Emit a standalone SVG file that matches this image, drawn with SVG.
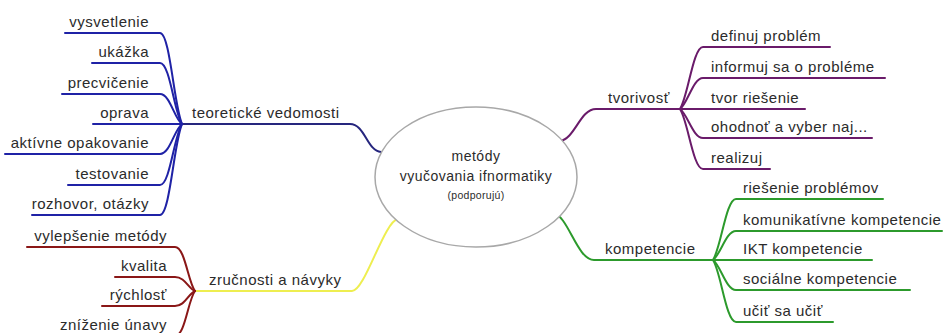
<svg xmlns="http://www.w3.org/2000/svg" width="943" height="333" viewBox="0 0 943 333">
  <style>
    .lbl { font-family: "Liberation Sans", Arial, sans-serif; font-size: 15px; letter-spacing: 0.5px; fill: #2b2b2b; }
    .end { text-anchor: end; }
    .ctr { font-family: "Liberation Sans", Arial, sans-serif; font-size: 14px; letter-spacing: 0.5px; fill: #2b2b2b; text-anchor: middle; }
    .sub { font-family: "Liberation Sans", Arial, sans-serif; font-size: 10.5px; letter-spacing: 0.3px; fill: #2b2b2b; text-anchor: middle; }
    .ln { fill: none; stroke-width: 2; stroke-linecap: round; }
    .blue { stroke: #1f22a6; }
    .navy { stroke: #26267e; }
    .red { stroke: #8a1717; }
    .yel { stroke: #eeee50; }
    .pur { stroke: #6a1b6a; }
    .grn { stroke: #2c9a2c; }
  </style>
  <rect width="943" height="333" fill="#ffffff"/>

  <g id="connectors">
    <!-- center to main branches -->
    <path class="ln navy" d="M182,124 H350 C365,124 367,151 381,152"/>
    <path class="ln yel" d="M195,291 H352 C365,291 384,221 398,219"/>
    <path class="ln pur" d="M560,141 C575,139 580,109 596,109 H680"/>
    <path class="ln grn" d="M553,213 C568,215 577,260 594,260 H713"/>

    <!-- teoretické vedomosti children -->
    <path class="ln blue" d="M65,33 H160 C170,33 174,106 182,124"/>
    <path class="ln blue" d="M92,63 H160 C170,63 174,112 182,124"/>
    <path class="ln blue" d="M62,94 H160 C170,94 174,118 182,124"/>
    <path class="ln blue" d="M93,124 H182"/>
    <path class="ln blue" d="M5,154 H160 C170,154 174,130 182,124"/>
    <path class="ln blue" d="M68,185 H160 C170,185 174,136 182,124"/>
    <path class="ln blue" d="M32,215 H160 C170,215 174,142 182,124"/>

    <!-- zručnosti a návyky children -->
    <path class="ln red" d="M27,247 H175 C185,247 188,282 195,291"/>
    <path class="ln red" d="M115,277 H175 C185,277 188,288 195,291"/>
    <path class="ln red" d="M102,306 H175 C185,306 188,294 195,291"/>
    <path class="ln red" d="M57,336 H175 C185,336 188,300 195,291"/>

    <!-- tvorivosť children -->
    <path class="ln pur" d="M680,109 C688,97 693,47 703,47 H830"/>
    <path class="ln pur" d="M680,109 C688,103 693,78 703,78 H885"/>
    <path class="ln pur" d="M680,109 H805"/>
    <path class="ln pur" d="M680,109 C688,115 693,138 703,138 H872"/>
    <path class="ln pur" d="M680,109 C688,121 693,169 703,169 H770"/>

    <!-- kompetencie children -->
    <path class="ln grn" d="M713,260 C721,248 726,199 736,199 H883"/>
    <path class="ln grn" d="M713,260 C721,254 726,231 736,231 H942"/>
    <path class="ln grn" d="M713,260 H872"/>
    <path class="ln grn" d="M713,260 C721,266 726,290 736,290 H910"/>
    <path class="ln grn" d="M713,260 C721,272 726,322 736,322 H833"/>
  </g>

  <g id="center">
    <ellipse cx="476" cy="177" rx="101" ry="70" fill="#ffffff" stroke="#a8a8a8" stroke-width="1.5"/>
    <text class="ctr" x="476" y="161">metódy</text>
    <text class="ctr" x="476" y="181">vyučovania ifnormatiky</text>
    <text class="sub" x="476" y="199">(podporujú)</text>
  </g>

  <g id="teoreticke-vedomosti">
    <text class="lbl" x="192" y="118">teoretické vedomosti</text>
  </g>
  <g id="vysvetlenie"><text class="lbl end" x="149" y="27">vysvetlenie</text></g>
  <g id="ukazka"><text class="lbl end" x="149" y="57">ukážka</text></g>
  <g id="precvicenie"><text class="lbl end" x="149" y="88">precvičenie</text></g>
  <g id="oprava"><text class="lbl end" x="149" y="118">oprava</text></g>
  <g id="aktivne-opakovanie"><text class="lbl end" x="149" y="148">aktívne opakovanie</text></g>
  <g id="testovanie"><text class="lbl end" x="149" y="179">testovanie</text></g>
  <g id="rozhovor"><text class="lbl end" x="149" y="209">rozhovor, otázky</text></g>

  <g id="zrucnosti-a-navyky">
    <text class="lbl" x="209" y="285">zručnosti a návyky</text>
  </g>
  <g id="vylepsenie"><text class="lbl end" x="167" y="241">vylepšenie metódy</text></g>
  <g id="kvalita"><text class="lbl end" x="167" y="271">kvalita</text></g>
  <g id="rychlost"><text class="lbl end" x="167" y="300">rýchlosť</text></g>
  <g id="znizenie-unavy"><text class="lbl end" x="167" y="330">zníženie únavy</text></g>

  <g id="tvorivost">
    <text class="lbl" x="608" y="103">tvorivosť</text>
  </g>
  <g id="definuj"><text class="lbl" x="711" y="41">definuj problém</text></g>
  <g id="informuj"><text class="lbl" x="711" y="72">informuj sa o probléme</text></g>
  <g id="tvor-riesenie"><text class="lbl" x="711" y="103">tvor riešenie</text></g>
  <g id="ohodnot"><text class="lbl" x="711" y="132">ohodnoť a vyber naj...</text></g>
  <g id="realizuj"><text class="lbl" x="711" y="163">realizuj</text></g>

  <g id="kompetencie">
    <text class="lbl" x="605" y="254">kompetencie</text>
  </g>
  <g id="riesenie-problemov"><text class="lbl" x="743" y="193">riešenie problémov</text></g>
  <g id="komunikativne"><text class="lbl" x="743" y="225">komunikatívne kompetencie</text></g>
  <g id="ikt"><text class="lbl" x="743" y="254">IKT kompetencie</text></g>
  <g id="socialne"><text class="lbl" x="743" y="284">sociálne kompetencie</text></g>
  <g id="ucit-sa"><text class="lbl" x="743" y="316">učiť sa učiť</text></g>
</svg>
